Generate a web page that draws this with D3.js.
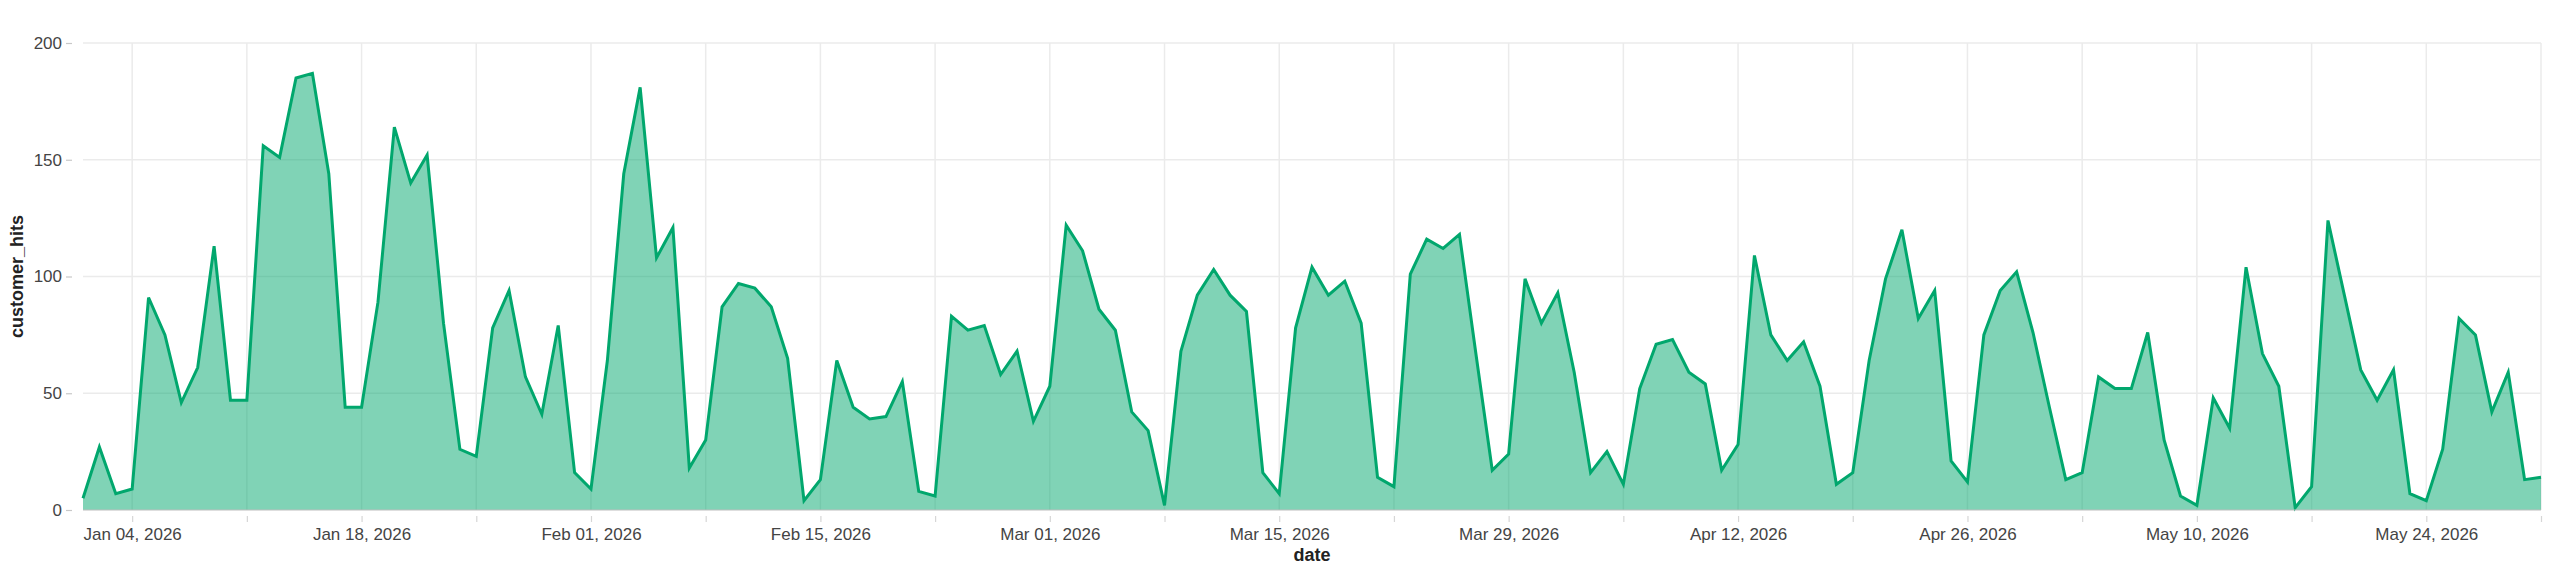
<!DOCTYPE html>
<html>
<head>
	<title>customer_hits</title>
	<script type="text/javascript" src="https://cdnjs.cloudflare.com/ajax/libs/d3/7.8.5/d3.min.js"></script>
	<style>
		body { margin: 0; background: #fff; }
		text { font-family: "Liberation Sans", Arial, sans-serif; }
	</style>
</head>
<body>
	<svg id="chart" width="2560" height="574"></svg>
	<script type="text/javascript">
		// daily customer hits, Jan 01 2026 .. May 31 2026
		var startDate = "2026-01-01";
		var hits = [
			5, 27, 7, 9, 91, 75, 46, 61, 113, 47, 47, 156, 151, 185, 187, 144, 44, 44, 89, 164,
			140, 152, 80, 26, 23, 78, 94, 57, 41, 79, 16, 9, 64, 144, 181, 108, 121, 18, 30, 87,
			97, 95, 87, 65, 4, 13, 64, 44, 39, 40, 55, 8, 6, 83, 77, 79, 58, 68, 38, 53,
			122, 111, 86, 77, 42, 34, 2, 68, 92, 103, 92, 85, 16, 7, 78, 104, 92, 98, 80, 14,
			10, 101, 116, 112, 118, 67, 17, 24, 99, 80, 93, 59, 16, 25, 11, 52, 71, 73, 59, 54,
			17, 28, 109, 75, 64, 72, 53, 11, 16, 64, 99, 120, 82, 94, 21, 12, 75, 94, 102, 76,
			44, 13, 16, 57, 52, 52, 76, 30, 6, 2, 48, 35, 104, 67, 53, 1, 10, 124, 92, 60,
			47, 60, 7, 4, 26, 82, 75, 42, 59, 13, 14
		];
		var yTicks = [0, 50, 100, 150, 200];
		var xTitle = "date";
		var yTitle = "customer_hits";

		var lineColor = "#01a76d";

		var parse = d3.timeParse("%Y-%m-%d");
		var t0 = parse(startDate);
		var data = hits.map(function (v, i) {
			return {date: d3.timeDay.offset(t0, i), value: v};
		});

		// plot box (note: "top" is taken by window.top)
		var pLeft = 83, pRight = 2541, pTop = 43, pBottom = 510;

		var x = d3.scaleTime()
			.domain(d3.extent(data, function (d) { return d.date; }))
			.range([pLeft, pRight]);
		var y = d3.scaleLinear()
			.domain([0, 200])
			.range([pBottom, pTop]);

		var svg = d3.select("#chart");

		// sundays get a grid line, every other one a label
		var weeks = d3.timeWeek.range(x.domain()[0], d3.timeDay.offset(x.domain()[1], 1));
		var fmt = d3.timeFormat("%b %d, %Y");

		//grid
		var grid = svg.append("g");
		grid.selectAll(".hg")
			.data(yTicks.filter(function (t) { return t > 0; }))
			.enter().append("line")
			.attr("x1", pLeft).attr("x2", pRight)
			.attr("y1", function (d) { return y(d); })
			.attr("y2", function (d) { return y(d); })
			.attr("stroke", "#ebebeb")
			.attr("stroke-width", 1.5);
		grid.selectAll(".vg")
			.data(weeks)
			.enter().append("line")
			.attr("x1", function (d) { return x(d); })
			.attr("x2", function (d) { return x(d); })
			.attr("y1", pTop).attr("y2", pBottom)
			.attr("stroke", "#ebebeb")
			.attr("stroke-width", 1.5);

		//area + line
		var area = d3.area()
			.x(function (d) { return x(d.date); })
			.y0(y(0))
			.y1(function (d) { return y(d.value); });
		var line = d3.line()
			.x(function (d) { return x(d.date); })
			.y(function (d) { return y(d.value); });

		svg.append("path")
			.datum(data)
			.attr("d", area)
			.attr("fill", lineColor)
			.attr("fill-opacity", 0.5);
		svg.append("path")
			.datum(data)
			.attr("d", line)
			.attr("fill", "none")
			.attr("stroke", lineColor)
			.attr("stroke-width", 3);

		// baseline
		svg.append("line")
			.attr("x1", pLeft).attr("x2", pRight)
			.attr("y1", y(0)).attr("y2", y(0))
			.attr("stroke", "#bdbdbd")
			.attr("stroke-width", 1.2);

		//x axis, pushed down a bit from the plot
		var xAxis = d3.axisBottom(x)
			.tickValues(weeks)
			.tickSize(6)
			.tickPadding(6)
			.tickFormat(function (d, i) { return i % 2 == 0 ? fmt(d) : ""; });
		var gx = svg.append("g")
			.attr("transform", "translate(0," + (pBottom + 6) + ")")
			.call(xAxis);
		gx.select(".domain").remove();
		gx.selectAll(".tick line").attr("stroke", "#d6d6d6").attr("stroke-width", 1.2);
		gx.selectAll(".tick text")
			.attr("fill", "#444")
			.attr("font-size", 17)
			.style("font-family", "'Liberation Sans', Arial, sans-serif");

		//y axis
		var yAxis = d3.axisLeft(y)
			.tickValues(yTicks)
			.tickSize(6)
			.tickPadding(4);
		var gy = svg.append("g")
			.attr("transform", "translate(" + (pLeft - 11) + ",0)")
			.call(yAxis);
		gy.select(".domain").remove();
		gy.selectAll(".tick line").attr("stroke", "#c8c8c8").attr("stroke-width", 1.2);
		gy.selectAll(".tick text")
			.attr("fill", "#444")
			.attr("font-size", 17)
			.style("font-family", "'Liberation Sans', Arial, sans-serif");

		//titles
		svg.append("text")
			.attr("x", (pLeft + pRight) / 2)
			.attr("y", 561)
			.attr("text-anchor", "middle")
			.attr("font-size", 18)
			.attr("font-weight", "bold")
			.attr("fill", "#222")
			.text(xTitle);
		svg.append("text")
			.attr("transform", "translate(23," + ((pTop + pBottom) / 2) + ") rotate(-90)")
			.attr("text-anchor", "middle")
			.attr("font-size", 18)
			.attr("font-weight", "bold")
			.attr("fill", "#222")
			.text(yTitle);
	</script>
</body>
</html>
